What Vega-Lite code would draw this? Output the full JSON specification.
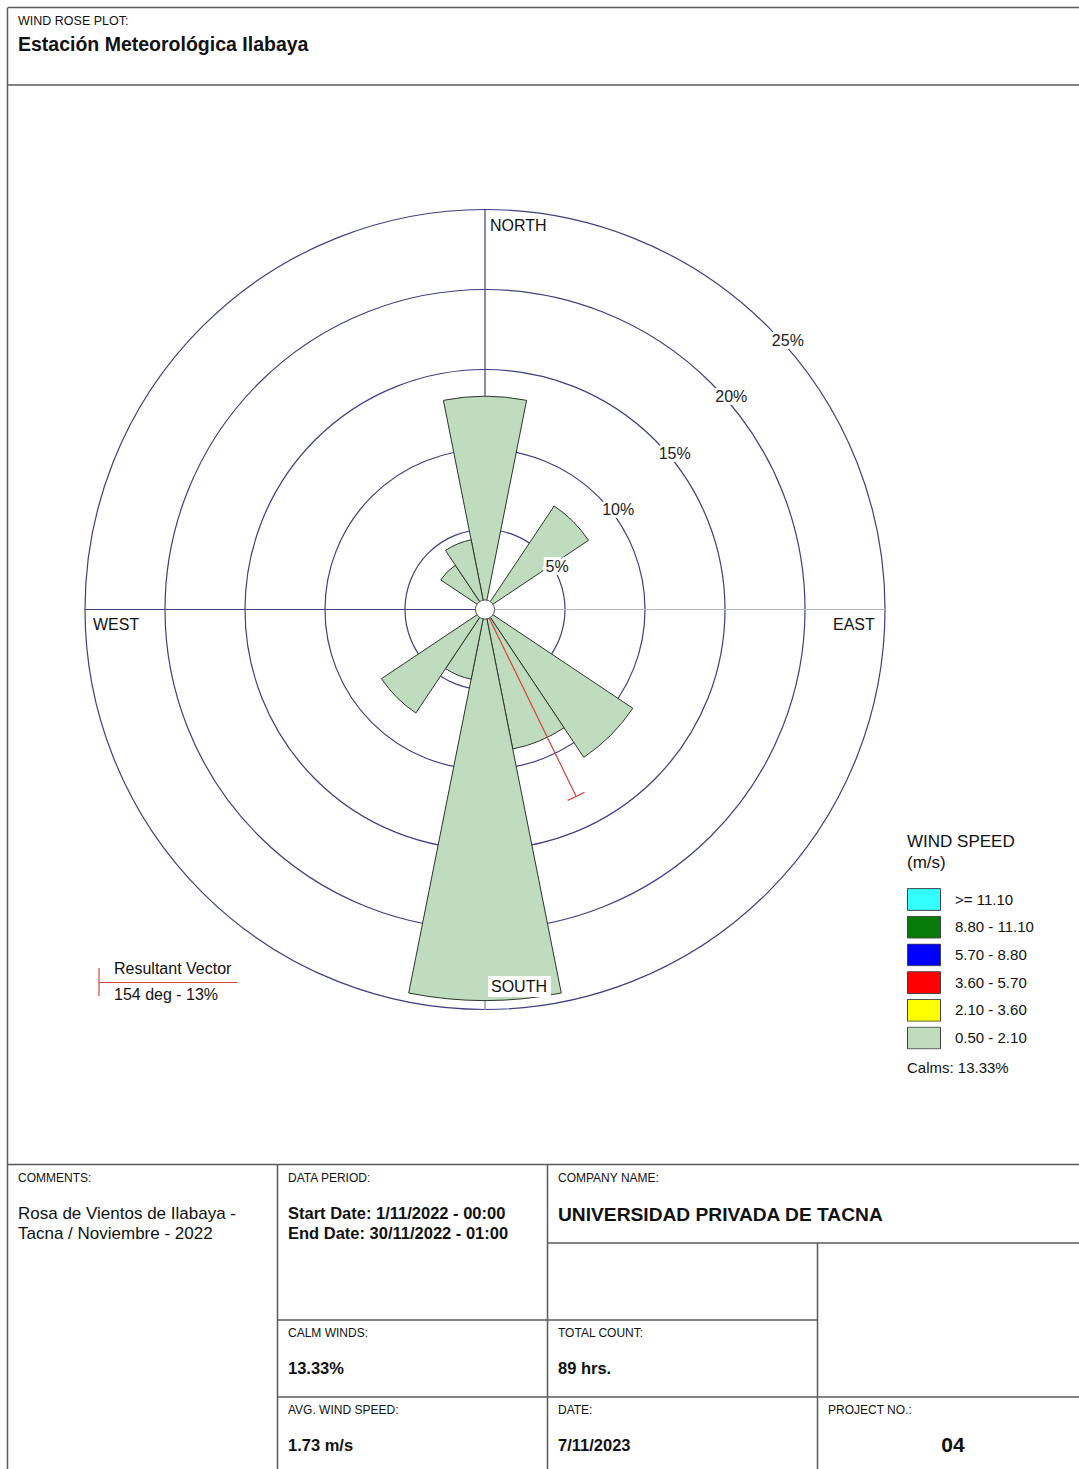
{
  "$schema": "https://vega.github.io/schema/vega-lite/v6.json",
  "width": 1079,
  "height": 1469,
  "padding": 0,
  "autosize": {"type": "none"},
  "background": "white",
  "config": {"view": {"stroke": null}, "text": {"font": "Liberation Sans", "color": "#111"}},
  "data": {"values": [{"station": "Estación Meteorológica Ilabaya", "calms_pct": 13.33, "total_hrs": 89, "avg_speed": 1.73, "vector_deg": 154, "vector_pct": 13}]},
  "layer": [
    {"mark": {"type": "rule", "color": "#5a5a5a", "strokeWidth": 1.5}, "encoding": {"x": {"datum": 8, "type": "quantitative", "scale": {"domain": [0, 1079], "nice": false, "zero": false}, "axis": null}, "x2": {"datum": 1079}, "y": {"datum": 7.5, "type": "quantitative", "scale": {"domain": [0, 1469], "nice": false, "zero": false, "reverse": true}, "axis": null}, "y2": {"datum": 7.5}}},
    {"mark": {"type": "rule", "color": "#5a5a5a", "strokeWidth": 1.5}, "encoding": {"x": {"datum": 7.5, "type": "quantitative", "scale": {"domain": [0, 1079], "nice": false, "zero": false}, "axis": null}, "x2": {"datum": 7.5}, "y": {"datum": 7.5, "type": "quantitative", "scale": {"domain": [0, 1469], "nice": false, "zero": false, "reverse": true}, "axis": null}, "y2": {"datum": 1469}}},
    {"mark": {"type": "rule", "color": "#5a5a5a", "strokeWidth": 1.5}, "encoding": {"x": {"datum": 8, "type": "quantitative", "scale": {"domain": [0, 1079], "nice": false, "zero": false}, "axis": null}, "x2": {"datum": 1079}, "y": {"datum": 85, "type": "quantitative", "scale": {"domain": [0, 1469], "nice": false, "zero": false, "reverse": true}, "axis": null}, "y2": {"datum": 85}}},
    {"mark": {"type": "rule", "color": "#5a5a5a", "strokeWidth": 1.5}, "encoding": {"x": {"datum": 8, "type": "quantitative", "scale": {"domain": [0, 1079], "nice": false, "zero": false}, "axis": null}, "x2": {"datum": 1079}, "y": {"datum": 1164.5, "type": "quantitative", "scale": {"domain": [0, 1469], "nice": false, "zero": false, "reverse": true}, "axis": null}, "y2": {"datum": 1164.5}}},
    {"mark": {"type": "rule", "color": "#5a5a5a", "strokeWidth": 1.5}, "encoding": {"x": {"datum": 277.5, "type": "quantitative", "scale": {"domain": [0, 1079], "nice": false, "zero": false}, "axis": null}, "x2": {"datum": 277.5}, "y": {"datum": 1164.5, "type": "quantitative", "scale": {"domain": [0, 1469], "nice": false, "zero": false, "reverse": true}, "axis": null}, "y2": {"datum": 1469}}},
    {"mark": {"type": "rule", "color": "#5a5a5a", "strokeWidth": 1.5}, "encoding": {"x": {"datum": 547.5, "type": "quantitative", "scale": {"domain": [0, 1079], "nice": false, "zero": false}, "axis": null}, "x2": {"datum": 547.5}, "y": {"datum": 1164.5, "type": "quantitative", "scale": {"domain": [0, 1469], "nice": false, "zero": false, "reverse": true}, "axis": null}, "y2": {"datum": 1469}}},
    {"mark": {"type": "rule", "color": "#5a5a5a", "strokeWidth": 1.5}, "encoding": {"x": {"datum": 547.5, "type": "quantitative", "scale": {"domain": [0, 1079], "nice": false, "zero": false}, "axis": null}, "x2": {"datum": 1079}, "y": {"datum": 1243, "type": "quantitative", "scale": {"domain": [0, 1469], "nice": false, "zero": false, "reverse": true}, "axis": null}, "y2": {"datum": 1243}}},
    {"mark": {"type": "rule", "color": "#5a5a5a", "strokeWidth": 1.5}, "encoding": {"x": {"datum": 817.5, "type": "quantitative", "scale": {"domain": [0, 1079], "nice": false, "zero": false}, "axis": null}, "x2": {"datum": 817.5}, "y": {"datum": 1243, "type": "quantitative", "scale": {"domain": [0, 1469], "nice": false, "zero": false, "reverse": true}, "axis": null}, "y2": {"datum": 1469}}},
    {"mark": {"type": "rule", "color": "#5a5a5a", "strokeWidth": 1.5}, "encoding": {"x": {"datum": 277.5, "type": "quantitative", "scale": {"domain": [0, 1079], "nice": false, "zero": false}, "axis": null}, "x2": {"datum": 817.5}, "y": {"datum": 1320, "type": "quantitative", "scale": {"domain": [0, 1469], "nice": false, "zero": false, "reverse": true}, "axis": null}, "y2": {"datum": 1320}}},
    {"mark": {"type": "rule", "color": "#5a5a5a", "strokeWidth": 1.5}, "encoding": {"x": {"datum": 277.5, "type": "quantitative", "scale": {"domain": [0, 1079], "nice": false, "zero": false}, "axis": null}, "x2": {"datum": 1079}, "y": {"datum": 1397, "type": "quantitative", "scale": {"domain": [0, 1469], "nice": false, "zero": false, "reverse": true}, "axis": null}, "y2": {"datum": 1397}}},

    {"data": {"values": [{"level": 5, "label": "5%"}, {"level": 10, "label": "10%"}, {"level": 15, "label": "15%"}, {"level": 20, "label": "20%"}, {"level": 25, "label": "25%"}]},
     "mark": {"type": "arc", "filled": false, "stroke": "#3f3f7f", "strokeWidth": 1.2},
     "encoding": {"x": {"datum": 485, "type": "quantitative", "scale": {"domain": [0, 1079], "nice": false, "zero": false}, "axis": null}, "y": {"datum": 609.5, "type": "quantitative", "scale": {"domain": [0, 1469], "nice": false, "zero": false, "reverse": true}, "axis": null}, "theta": {"datum": 0, "type": "quantitative", "scale": {"domain": [0, 360], "range": [0, 6.283185307179586], "nice": false, "zero": false}}, "theta2": {"datum": 360}, "radius": {"field": "level", "type": "quantitative", "stack": null, "scale": {"type": "linear", "domain": [0, 25], "range": [0, 400], "nice": false, "zero": true}}}},

    {"mark": {"type": "arc", "filled": false, "stroke": "#3f3f7f", "strokeWidth": 1.2},
     "encoding": {"x": {"datum": 485, "type": "quantitative", "scale": {"domain": [0, 1079], "nice": false, "zero": false}, "axis": null}, "y": {"datum": 609.5, "type": "quantitative", "scale": {"domain": [0, 1469], "nice": false, "zero": false, "reverse": true}, "axis": null}, "theta": {"datum": 0, "type": "quantitative", "scale": {"domain": [0, 360], "range": [0, 6.283185307179586], "nice": false, "zero": false}}, "theta2": {"datum": 0}, "radius": {"datum": 25, "type": "quantitative", "scale": {"type": "linear", "domain": [0, 25], "range": [0, 400], "nice": false, "zero": true}}}},
    {"mark": {"type": "arc", "filled": false, "stroke": "#3f3f7f", "strokeWidth": 1.2},
     "encoding": {"x": {"datum": 485, "type": "quantitative", "scale": {"domain": [0, 1079], "nice": false, "zero": false}, "axis": null}, "y": {"datum": 609.5, "type": "quantitative", "scale": {"domain": [0, 1469], "nice": false, "zero": false, "reverse": true}, "axis": null}, "theta": {"datum": 270, "type": "quantitative", "scale": {"domain": [0, 360], "range": [0, 6.283185307179586], "nice": false, "zero": false}}, "theta2": {"datum": 270}, "radius": {"datum": 25, "type": "quantitative", "scale": {"type": "linear", "domain": [0, 25], "range": [0, 400], "nice": false, "zero": true}}}},
    {"mark": {"type": "arc", "filled": false, "stroke": "#b4b4cc", "strokeWidth": 1.2},
     "encoding": {"x": {"datum": 485, "type": "quantitative", "scale": {"domain": [0, 1079], "nice": false, "zero": false}, "axis": null}, "y": {"datum": 609.5, "type": "quantitative", "scale": {"domain": [0, 1469], "nice": false, "zero": false, "reverse": true}, "axis": null}, "theta": {"datum": 90, "type": "quantitative", "scale": {"domain": [0, 360], "range": [0, 6.283185307179586], "nice": false, "zero": false}}, "theta2": {"datum": 90}, "radius": {"datum": 25, "type": "quantitative", "scale": {"type": "linear", "domain": [0, 25], "range": [0, 400], "nice": false, "zero": true}}}},
    {"mark": {"type": "arc", "filled": false, "stroke": "#9a9aaa", "strokeWidth": 1},
     "encoding": {"x": {"datum": 485, "type": "quantitative", "scale": {"domain": [0, 1079], "nice": false, "zero": false}, "axis": null}, "y": {"datum": 609.5, "type": "quantitative", "scale": {"domain": [0, 1469], "nice": false, "zero": false, "reverse": true}, "axis": null}, "theta": {"datum": 180, "type": "quantitative", "scale": {"domain": [0, 360], "range": [0, 6.283185307179586], "nice": false, "zero": false}}, "theta2": {"datum": 180}, "radius": {"datum": 25, "type": "quantitative", "scale": {"type": "linear", "domain": [0, 25], "range": [0, 400], "nice": false, "zero": true}}}},

    {"data": {"values": [
      {"direction": "N", "degrees": 0, "percent": 13.33, "speed": "0.50 - 2.10"},
      {"direction": "NNE", "degrees": 22.5, "percent": 0, "speed": "0.50 - 2.10"},
      {"direction": "NE", "degrees": 45, "percent": 7.78, "speed": "0.50 - 2.10"},
      {"direction": "ENE", "degrees": 67.5, "percent": 0, "speed": "0.50 - 2.10"},
      {"direction": "E", "degrees": 90, "percent": 0, "speed": "0.50 - 2.10"},
      {"direction": "ESE", "degrees": 112.5, "percent": 0, "speed": "0.50 - 2.10"},
      {"direction": "SE", "degrees": 135, "percent": 11.11, "speed": "0.50 - 2.10"},
      {"direction": "SSE", "degrees": 157.5, "percent": 8.89, "speed": "0.50 - 2.10"},
      {"direction": "S", "degrees": 180, "percent": 24.44, "speed": "0.50 - 2.10"},
      {"direction": "SSW", "degrees": 202.5, "percent": 4.44, "speed": "0.50 - 2.10"},
      {"direction": "SW", "degrees": 225, "percent": 7.78, "speed": "0.50 - 2.10"},
      {"direction": "WSW", "degrees": 247.5, "percent": 0, "speed": "0.50 - 2.10"},
      {"direction": "W", "degrees": 270, "percent": 0, "speed": "0.50 - 2.10"},
      {"direction": "WNW", "degrees": 292.5, "percent": 0, "speed": "0.50 - 2.10"},
      {"direction": "NW", "degrees": 315, "percent": 3.33, "speed": "0.50 - 2.10"},
      {"direction": "NNW", "degrees": 337.5, "percent": 4.44, "speed": "0.50 - 2.10"}
     ]},
     "mark": {"type": "arc", "stroke": "#2b352b", "strokeWidth": 1, "thetaOffset": -0.19635, "theta2Offset": 0.19635, "opacity": 1},
     "encoding": {
       "x": {"datum": 485, "type": "quantitative", "scale": {"domain": [0, 1079], "nice": false, "zero": false}, "axis": null},
       "y": {"datum": 609.5, "type": "quantitative", "scale": {"domain": [0, 1469], "nice": false, "zero": false, "reverse": true}, "axis": null},
       "theta": {"field": "degrees", "type": "quantitative", "stack": null, "scale": {"domain": [0, 360], "range": [0, 6.283185307179586], "nice": false, "zero": false}},
       "theta2": {"field": "degrees"},
       "radius": {"field": "percent", "type": "quantitative", "stack": null, "scale": {"type": "linear", "domain": [0, 25], "range": [0, 400], "nice": false, "zero": true}},
       "color": {"field": "speed", "type": "nominal",
         "scale": {"domain": [">= 11.10", "8.80 - 11.10", "5.70 - 8.80", "3.60 - 5.70", "2.10 - 3.60", "0.50 - 2.10"], "range": ["#33ffff", "#077a07", "#0000ff", "#ff0000", "#ffff00", "#bfdcbf"]},
         "legend": {"title": ["WIND SPEED", "(m/s)"], "orient": "none", "legendX": 907, "legendY": 834, "padding": 0,
           "titleFont": "Liberation Sans", "titleFontSize": 17, "titleFontWeight": "normal", "titleColor": "#111", "titleLineHeight": 21, "titlePadding": 16, "titleAlign": "left", "titleBaseline": "top",
           "labelFont": "Liberation Sans", "labelFontSize": 15, "labelColor": "#111", "labelOffset": 14,
           "symbolType": "M-1,-0.66H1V0.66H-1Z", "symbolSize": 1089, "symbolStrokeColor": "#444", "symbolStrokeWidth": 1, "symbolOpacity": 1,
           "clipHeight": 23, "rowPadding": 4.7,
           "encode": {"symbols": {"update": {"stroke": {"value": "#444"}, "strokeWidth": {"value": 1}}}}}}
     }},

    {"mark": {"type": "arc", "filled": false, "stroke": "#d9413f", "strokeWidth": 1.2},
     "encoding": {"x": {"datum": 485, "type": "quantitative", "scale": {"domain": [0, 1079], "nice": false, "zero": false}, "axis": null}, "y": {"datum": 609.5, "type": "quantitative", "scale": {"domain": [0, 1469], "nice": false, "zero": false, "reverse": true}, "axis": null}, "theta": {"field": "vector_deg", "type": "quantitative", "stack": null, "scale": {"domain": [0, 360], "range": [0, 6.283185307179586], "nice": false, "zero": false}}, "theta2": {"field": "vector_deg"}, "radius": {"field": "vector_pct", "type": "quantitative", "stack": null, "scale": {"type": "linear", "domain": [0, 25], "range": [0, 400], "nice": false, "zero": true}}}},
    {"mark": {"type": "arc", "filled": false, "stroke": "#d9413f", "strokeWidth": 1.2, "thetaOffset": -0.045, "theta2Offset": 0.045},
     "encoding": {"x": {"datum": 485, "type": "quantitative", "scale": {"domain": [0, 1079], "nice": false, "zero": false}, "axis": null}, "y": {"datum": 609.5, "type": "quantitative", "scale": {"domain": [0, 1469], "nice": false, "zero": false, "reverse": true}, "axis": null}, "theta": {"field": "vector_deg", "type": "quantitative", "stack": null, "scale": {"domain": [0, 360], "range": [0, 6.283185307179586], "nice": false, "zero": false}}, "theta2": {"field": "vector_deg"}, "radius": {"field": "vector_pct", "type": "quantitative", "stack": null, "scale": {"type": "linear", "domain": [0, 25], "range": [0, 400], "nice": false, "zero": true}}, "radius2": {"field": "vector_pct"}}},

    {"mark": {"type": "arc", "fill": "white", "stroke": "#555", "strokeWidth": 1},
     "encoding": {"x": {"datum": 485, "type": "quantitative", "scale": {"domain": [0, 1079], "nice": false, "zero": false}, "axis": null}, "y": {"datum": 609.5, "type": "quantitative", "scale": {"domain": [0, 1469], "nice": false, "zero": false, "reverse": true}, "axis": null}, "theta": {"datum": 0, "type": "quantitative", "scale": {"domain": [0, 360], "range": [0, 6.283185307179586], "nice": false, "zero": false}}, "theta2": {"datum": 360}, "radius": {"datum": 0.6, "type": "quantitative", "scale": {"type": "linear", "domain": [0, 25], "range": [0, 400], "nice": false, "zero": true}}}},

    {"data": {"values": [{"level": 5, "label": "5%"}, {"level": 10, "label": "10%"}, {"level": 15, "label": "15%"}, {"level": 20, "label": "20%"}, {"level": 25, "label": "25%"}]},
     "mark": {"type": "text", "align": "left", "baseline": "top", "dx": 4, "dy": 6, "fontSize": 16, "fill": "white", "stroke": "white", "strokeWidth": 6},
     "encoding": {"x": {"datum": 485, "type": "quantitative", "scale": {"domain": [0, 1079], "nice": false, "zero": false}, "axis": null}, "y": {"datum": 609.5, "type": "quantitative", "scale": {"domain": [0, 1469], "nice": false, "zero": false, "reverse": true}, "axis": null}, "theta": {"datum": 45, "type": "quantitative", "scale": {"domain": [0, 360], "range": [0, 6.283185307179586], "nice": false, "zero": false}}, "radius": {"field": "level", "type": "quantitative", "stack": null, "scale": {"type": "linear", "domain": [0, 25], "range": [0, 400], "nice": false, "zero": true}}, "text": {"field": "label"}}},
    {"data": {"values": [{"level": 5, "label": "5%"}, {"level": 10, "label": "10%"}, {"level": 15, "label": "15%"}, {"level": 20, "label": "20%"}, {"level": 25, "label": "25%"}]},
     "mark": {"type": "text", "align": "left", "baseline": "top", "dx": 4, "dy": 6, "fontSize": 16, "color": "#222"},
     "encoding": {"x": {"datum": 485, "type": "quantitative", "scale": {"domain": [0, 1079], "nice": false, "zero": false}, "axis": null}, "y": {"datum": 609.5, "type": "quantitative", "scale": {"domain": [0, 1469], "nice": false, "zero": false, "reverse": true}, "axis": null}, "theta": {"datum": 45, "type": "quantitative", "scale": {"domain": [0, 360], "range": [0, 6.283185307179586], "nice": false, "zero": false}}, "radius": {"field": "level", "type": "quantitative", "stack": null, "scale": {"type": "linear", "domain": [0, 25], "range": [0, 400], "nice": false, "zero": true}}, "text": {"field": "label"}}},

    {"mark": {"type": "rect", "fill": "white"}, "encoding": {"x": {"datum": 488, "type": "quantitative", "scale": {"domain": [0, 1079], "nice": false, "zero": false}, "axis": null}, "x2": {"datum": 551}, "y": {"datum": 976, "type": "quantitative", "scale": {"domain": [0, 1469], "nice": false, "zero": false, "reverse": true}, "axis": null}, "y2": {"datum": 997}}},

    {"mark": {"type": "text", "text": "NORTH", "align": "left", "baseline": "alphabetic", "fontSize": 16}, "encoding": {"x": {"datum": 490, "type": "quantitative", "scale": {"domain": [0, 1079], "nice": false, "zero": false}, "axis": null}, "y": {"datum": 231, "type": "quantitative", "scale": {"domain": [0, 1469], "nice": false, "zero": false, "reverse": true}, "axis": null}}},
    {"mark": {"type": "text", "text": "SOUTH", "align": "left", "baseline": "alphabetic", "fontSize": 16}, "encoding": {"x": {"datum": 491, "type": "quantitative", "scale": {"domain": [0, 1079], "nice": false, "zero": false}, "axis": null}, "y": {"datum": 992, "type": "quantitative", "scale": {"domain": [0, 1469], "nice": false, "zero": false, "reverse": true}, "axis": null}}},
    {"mark": {"type": "text", "text": "WEST", "align": "left", "baseline": "alphabetic", "fontSize": 16}, "encoding": {"x": {"datum": 93, "type": "quantitative", "scale": {"domain": [0, 1079], "nice": false, "zero": false}, "axis": null}, "y": {"datum": 630, "type": "quantitative", "scale": {"domain": [0, 1469], "nice": false, "zero": false, "reverse": true}, "axis": null}}},
    {"mark": {"type": "text", "text": "EAST", "align": "left", "baseline": "alphabetic", "fontSize": 16}, "encoding": {"x": {"datum": 833, "type": "quantitative", "scale": {"domain": [0, 1079], "nice": false, "zero": false}, "axis": null}, "y": {"datum": 630, "type": "quantitative", "scale": {"domain": [0, 1469], "nice": false, "zero": false, "reverse": true}, "axis": null}}},

    {"mark": {"type": "rule", "color": "#d9413f", "strokeWidth": 1.2}, "encoding": {"x": {"datum": 99, "type": "quantitative", "scale": {"domain": [0, 1079], "nice": false, "zero": false}, "axis": null}, "x2": {"datum": 237}, "y": {"datum": 982.5, "type": "quantitative", "scale": {"domain": [0, 1469], "nice": false, "zero": false, "reverse": true}, "axis": null}, "y2": {"datum": 982.5}}},
    {"mark": {"type": "rule", "color": "#d9413f", "strokeWidth": 1.2}, "encoding": {"x": {"datum": 99, "type": "quantitative", "scale": {"domain": [0, 1079], "nice": false, "zero": false}, "axis": null}, "x2": {"datum": 99}, "y": {"datum": 968, "type": "quantitative", "scale": {"domain": [0, 1469], "nice": false, "zero": false, "reverse": true}, "axis": null}, "y2": {"datum": 996}}},
    {"mark": {"type": "text", "text": "Resultant Vector", "align": "left", "baseline": "alphabetic", "fontSize": 16}, "encoding": {"x": {"datum": 114, "type": "quantitative", "scale": {"domain": [0, 1079], "nice": false, "zero": false}, "axis": null}, "y": {"datum": 974, "type": "quantitative", "scale": {"domain": [0, 1469], "nice": false, "zero": false, "reverse": true}, "axis": null}}},
    {"mark": {"type": "text", "text": "154 deg - 13%", "align": "left", "baseline": "alphabetic", "fontSize": 16}, "encoding": {"x": {"datum": 114, "type": "quantitative", "scale": {"domain": [0, 1079], "nice": false, "zero": false}, "axis": null}, "y": {"datum": 1000, "type": "quantitative", "scale": {"domain": [0, 1469], "nice": false, "zero": false, "reverse": true}, "axis": null}}},
    {"mark": {"type": "text", "text": "Calms: 13.33%", "align": "left", "baseline": "alphabetic", "fontSize": 15}, "encoding": {"x": {"datum": 907, "type": "quantitative", "scale": {"domain": [0, 1079], "nice": false, "zero": false}, "axis": null}, "y": {"datum": 1073, "type": "quantitative", "scale": {"domain": [0, 1469], "nice": false, "zero": false, "reverse": true}, "axis": null}}},

    {"mark": {"type": "text", "text": "WIND ROSE PLOT:", "align": "left", "baseline": "alphabetic", "fontSize": 12.5}, "encoding": {"x": {"datum": 18, "type": "quantitative", "scale": {"domain": [0, 1079], "nice": false, "zero": false}, "axis": null}, "y": {"datum": 25, "type": "quantitative", "scale": {"domain": [0, 1469], "nice": false, "zero": false, "reverse": true}, "axis": null}}},
    {"mark": {"type": "text", "align": "left", "baseline": "alphabetic", "fontSize": 19.5, "fontWeight": "bold"}, "encoding": {"text": {"field": "station"}, "x": {"datum": 18, "type": "quantitative", "scale": {"domain": [0, 1079], "nice": false, "zero": false}, "axis": null}, "y": {"datum": 51, "type": "quantitative", "scale": {"domain": [0, 1469], "nice": false, "zero": false, "reverse": true}, "axis": null}}},

    {"mark": {"type": "text", "text": "COMMENTS:", "align": "left", "baseline": "alphabetic", "fontSize": 12}, "encoding": {"x": {"datum": 18, "type": "quantitative", "scale": {"domain": [0, 1079], "nice": false, "zero": false}, "axis": null}, "y": {"datum": 1182, "type": "quantitative", "scale": {"domain": [0, 1469], "nice": false, "zero": false, "reverse": true}, "axis": null}}},
    {"mark": {"type": "text", "text": "Rosa de Vientos de Ilabaya -", "align": "left", "baseline": "alphabetic", "fontSize": 17}, "encoding": {"x": {"datum": 18, "type": "quantitative", "scale": {"domain": [0, 1079], "nice": false, "zero": false}, "axis": null}, "y": {"datum": 1219, "type": "quantitative", "scale": {"domain": [0, 1469], "nice": false, "zero": false, "reverse": true}, "axis": null}}},
    {"mark": {"type": "text", "text": "Tacna / Noviembre - 2022", "align": "left", "baseline": "alphabetic", "fontSize": 17}, "encoding": {"x": {"datum": 18, "type": "quantitative", "scale": {"domain": [0, 1079], "nice": false, "zero": false}, "axis": null}, "y": {"datum": 1239, "type": "quantitative", "scale": {"domain": [0, 1469], "nice": false, "zero": false, "reverse": true}, "axis": null}}},
    {"mark": {"type": "text", "text": "DATA PERIOD:", "align": "left", "baseline": "alphabetic", "fontSize": 12}, "encoding": {"x": {"datum": 288, "type": "quantitative", "scale": {"domain": [0, 1079], "nice": false, "zero": false}, "axis": null}, "y": {"datum": 1182, "type": "quantitative", "scale": {"domain": [0, 1469], "nice": false, "zero": false, "reverse": true}, "axis": null}}},
    {"mark": {"type": "text", "text": "Start Date: 1/11/2022 - 00:00", "align": "left", "baseline": "alphabetic", "fontSize": 16.5, "fontWeight": "bold"}, "encoding": {"x": {"datum": 288, "type": "quantitative", "scale": {"domain": [0, 1079], "nice": false, "zero": false}, "axis": null}, "y": {"datum": 1219, "type": "quantitative", "scale": {"domain": [0, 1469], "nice": false, "zero": false, "reverse": true}, "axis": null}}},
    {"mark": {"type": "text", "text": "End Date: 30/11/2022 - 01:00", "align": "left", "baseline": "alphabetic", "fontSize": 16.5, "fontWeight": "bold"}, "encoding": {"x": {"datum": 288, "type": "quantitative", "scale": {"domain": [0, 1079], "nice": false, "zero": false}, "axis": null}, "y": {"datum": 1239, "type": "quantitative", "scale": {"domain": [0, 1469], "nice": false, "zero": false, "reverse": true}, "axis": null}}},
    {"mark": {"type": "text", "text": "COMPANY NAME:", "align": "left", "baseline": "alphabetic", "fontSize": 12}, "encoding": {"x": {"datum": 558, "type": "quantitative", "scale": {"domain": [0, 1079], "nice": false, "zero": false}, "axis": null}, "y": {"datum": 1182, "type": "quantitative", "scale": {"domain": [0, 1469], "nice": false, "zero": false, "reverse": true}, "axis": null}}},
    {"mark": {"type": "text", "text": "UNIVERSIDAD PRIVADA DE TACNA", "align": "left", "baseline": "alphabetic", "fontSize": 19.2, "fontWeight": "bold"}, "encoding": {"x": {"datum": 558, "type": "quantitative", "scale": {"domain": [0, 1079], "nice": false, "zero": false}, "axis": null}, "y": {"datum": 1221, "type": "quantitative", "scale": {"domain": [0, 1469], "nice": false, "zero": false, "reverse": true}, "axis": null}}},
    {"mark": {"type": "text", "text": "CALM WINDS:", "align": "left", "baseline": "alphabetic", "fontSize": 12}, "encoding": {"x": {"datum": 288, "type": "quantitative", "scale": {"domain": [0, 1079], "nice": false, "zero": false}, "axis": null}, "y": {"datum": 1337, "type": "quantitative", "scale": {"domain": [0, 1469], "nice": false, "zero": false, "reverse": true}, "axis": null}}},
    {"mark": {"type": "text", "text": "13.33%", "align": "left", "baseline": "alphabetic", "fontSize": 16.5, "fontWeight": "bold"}, "encoding": {"x": {"datum": 288, "type": "quantitative", "scale": {"domain": [0, 1079], "nice": false, "zero": false}, "axis": null}, "y": {"datum": 1374, "type": "quantitative", "scale": {"domain": [0, 1469], "nice": false, "zero": false, "reverse": true}, "axis": null}}},
    {"mark": {"type": "text", "text": "TOTAL COUNT:", "align": "left", "baseline": "alphabetic", "fontSize": 12}, "encoding": {"x": {"datum": 558, "type": "quantitative", "scale": {"domain": [0, 1079], "nice": false, "zero": false}, "axis": null}, "y": {"datum": 1337, "type": "quantitative", "scale": {"domain": [0, 1469], "nice": false, "zero": false, "reverse": true}, "axis": null}}},
    {"mark": {"type": "text", "text": "89 hrs.", "align": "left", "baseline": "alphabetic", "fontSize": 16.5, "fontWeight": "bold"}, "encoding": {"x": {"datum": 558, "type": "quantitative", "scale": {"domain": [0, 1079], "nice": false, "zero": false}, "axis": null}, "y": {"datum": 1374, "type": "quantitative", "scale": {"domain": [0, 1469], "nice": false, "zero": false, "reverse": true}, "axis": null}}},
    {"mark": {"type": "text", "text": "AVG. WIND SPEED:", "align": "left", "baseline": "alphabetic", "fontSize": 12}, "encoding": {"x": {"datum": 288, "type": "quantitative", "scale": {"domain": [0, 1079], "nice": false, "zero": false}, "axis": null}, "y": {"datum": 1414, "type": "quantitative", "scale": {"domain": [0, 1469], "nice": false, "zero": false, "reverse": true}, "axis": null}}},
    {"mark": {"type": "text", "text": "1.73 m/s", "align": "left", "baseline": "alphabetic", "fontSize": 16.5, "fontWeight": "bold"}, "encoding": {"x": {"datum": 288, "type": "quantitative", "scale": {"domain": [0, 1079], "nice": false, "zero": false}, "axis": null}, "y": {"datum": 1451, "type": "quantitative", "scale": {"domain": [0, 1469], "nice": false, "zero": false, "reverse": true}, "axis": null}}},
    {"mark": {"type": "text", "text": "DATE:", "align": "left", "baseline": "alphabetic", "fontSize": 12}, "encoding": {"x": {"datum": 558, "type": "quantitative", "scale": {"domain": [0, 1079], "nice": false, "zero": false}, "axis": null}, "y": {"datum": 1414, "type": "quantitative", "scale": {"domain": [0, 1469], "nice": false, "zero": false, "reverse": true}, "axis": null}}},
    {"mark": {"type": "text", "text": "7/11/2023", "align": "left", "baseline": "alphabetic", "fontSize": 16.5, "fontWeight": "bold"}, "encoding": {"x": {"datum": 558, "type": "quantitative", "scale": {"domain": [0, 1079], "nice": false, "zero": false}, "axis": null}, "y": {"datum": 1451, "type": "quantitative", "scale": {"domain": [0, 1469], "nice": false, "zero": false, "reverse": true}, "axis": null}}},
    {"mark": {"type": "text", "text": "PROJECT NO.:", "align": "left", "baseline": "alphabetic", "fontSize": 12}, "encoding": {"x": {"datum": 828, "type": "quantitative", "scale": {"domain": [0, 1079], "nice": false, "zero": false}, "axis": null}, "y": {"datum": 1414, "type": "quantitative", "scale": {"domain": [0, 1469], "nice": false, "zero": false, "reverse": true}, "axis": null}}},
    {"mark": {"type": "text", "text": "04", "align": "center", "baseline": "alphabetic", "fontSize": 21, "fontWeight": "bold"}, "encoding": {"x": {"datum": 953, "type": "quantitative", "scale": {"domain": [0, 1079], "nice": false, "zero": false}, "axis": null}, "y": {"datum": 1452, "type": "quantitative", "scale": {"domain": [0, 1469], "nice": false, "zero": false, "reverse": true}, "axis": null}}}
  ]
}
